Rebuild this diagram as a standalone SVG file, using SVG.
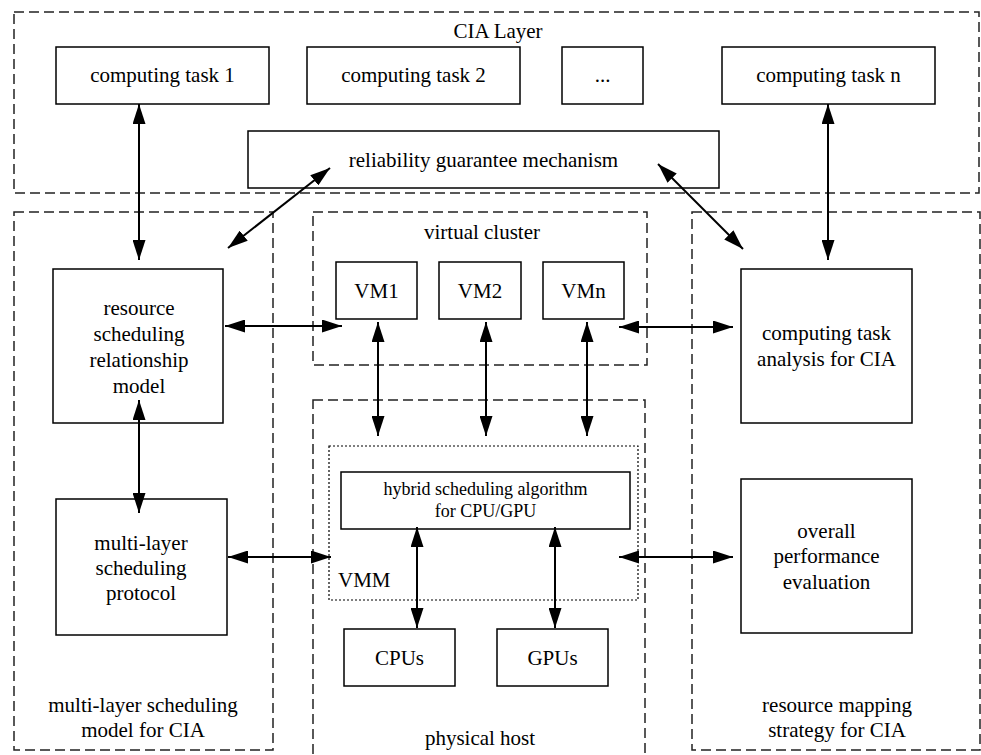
<svg xmlns="http://www.w3.org/2000/svg" width="981" height="755" viewBox="0 0 981 755">
  <defs>
    <marker id="head" markerUnits="userSpaceOnUse" markerWidth="20" markerHeight="13" refX="20" refY="6.5" orient="auto-start-reverse" viewBox="0 0 20 13">
      <path d="M0,0 L20,6.5 L0,13 z" fill="#000"/>
    </marker>
    <style>
      text { font-family: "Liberation Serif", "Times New Roman", serif; font-size: 21px; fill: #000; text-anchor: middle; }
      .small { font-size: 18px; }
      .box { fill: #fff; stroke: #000; stroke-width: 1.5; }
      .region { fill: none; stroke: #222; stroke-width: 1.5; stroke-dasharray: 10 5; }
      .dotted { fill: none; stroke: #000; stroke-width: 1.2; stroke-dasharray: 2 2; }
      .link { fill: none; stroke: #000; stroke-width: 2; marker-start: url(#head); marker-end: url(#head); }
    </style>
  </defs>

  <rect width="981" height="755" fill="#fff"/>

  <!-- dashed regions -->
  <g id="regions">
    <g id="cia-layer">
      <rect class="region" x="14" y="12" width="965" height="181"/>
      <text x="498" y="38">CIA Layer</text>
    </g>
    <g id="scheduling-model">
      <rect class="region" x="14" y="212" width="259" height="538"/>
      <text x="143" y="712">multi-layer scheduling</text>
      <text x="143" y="737">model for CIA</text>
    </g>
    <g id="virtual-cluster">
      <rect class="region" x="313" y="212" width="334" height="153"/>
      <text x="482" y="239">virtual cluster</text>
    </g>
    <g id="physical-host">
      <rect class="region" x="313" y="400" width="332" height="370"/>
      <text x="480" y="745">physical host</text>
    </g>
    <g id="mapping-strategy">
      <rect class="region" x="692" y="212" width="288" height="538"/>
      <text x="837" y="712">resource mapping</text>
      <text x="837" y="737">strategy for CIA</text>
    </g>
    <g id="vmm">
      <rect class="dotted" x="329" y="446" width="309" height="154"/>
      <text x="338" y="587" style="text-anchor:start">VMM</text>
    </g>
  </g>

  <!-- nodes -->
  <g id="task1">
    <rect class="box" x="56" y="47" width="213" height="57"/>
    <text x="162.5" y="82">computing task 1</text>
  </g>
  <g id="task2">
    <rect class="box" x="307" y="47" width="213" height="57"/>
    <text x="413.5" y="82">computing task 2</text>
  </g>
  <g id="task-more">
    <rect class="box" x="562" y="47" width="81" height="57"/>
    <text x="602.5" y="82">...</text>
  </g>
  <g id="taskn">
    <rect class="box" x="722" y="47" width="213" height="57"/>
    <text x="828.5" y="82">computing task n</text>
  </g>
  <g id="reliability">
    <rect class="box" x="248" y="131" width="471" height="57"/>
    <text x="483.5" y="167">reliability guarantee mechanism</text>
  </g>
  <g id="relationship-model">
    <rect class="box" x="53" y="269" width="170" height="154"/>
    <text x="139" y="315">resource</text>
    <text x="139" y="341">scheduling</text>
    <text x="139" y="367">relationship</text>
    <text x="139" y="393">model</text>
  </g>
  <g id="protocol">
    <rect class="box" x="56" y="499" width="171" height="136"/>
    <text x="141" y="550">multi-layer</text>
    <text x="141" y="575">scheduling</text>
    <text x="141" y="600">protocol</text>
  </g>
  <g id="vm1">
    <rect class="box" x="336" y="262" width="81" height="57"/>
    <text x="376.5" y="298">VM1</text>
  </g>
  <g id="vm2">
    <rect class="box" x="439" y="262" width="82" height="57"/>
    <text x="480" y="298">VM2</text>
  </g>
  <g id="vmn">
    <rect class="box" x="543" y="262" width="81" height="57"/>
    <text x="583.5" y="298">VMn</text>
  </g>
  <g id="hybrid">
    <rect class="box" x="341" y="472" width="289" height="57"/>
    <text class="small" x="485.5" y="495">hybrid scheduling algorithm</text>
    <text class="small" x="485.5" y="517">for CPU/GPU</text>
  </g>
  <g id="cpus">
    <rect class="box" x="344" y="629" width="111" height="57"/>
    <text x="399.5" y="665">CPUs</text>
  </g>
  <g id="gpus">
    <rect class="box" x="497" y="629" width="111" height="57"/>
    <text x="552.5" y="665">GPUs</text>
  </g>
  <g id="task-analysis">
    <rect class="box" x="741" y="269" width="171" height="154"/>
    <text x="826.5" y="340">computing task</text>
    <text x="826.5" y="366">analysis for CIA</text>
  </g>
  <g id="evaluation">
    <rect class="box" x="741" y="479" width="171" height="154"/>
    <text x="826.5" y="538">overall</text>
    <text x="826.5" y="563">performance</text>
    <text x="826.5" y="589">evaluation</text>
  </g>

  <!-- connectors -->
  <g id="connectors">
    <line class="link" x1="139" y1="104" x2="139" y2="260"/>
    <line class="link" x1="828" y1="104" x2="828" y2="260"/>
    <line class="link" x1="330" y1="168" x2="228" y2="248"/>
    <line class="link" x1="658" y1="164" x2="743" y2="249"/>
    <line class="link" x1="225" y1="326" x2="342" y2="326"/>
    <line class="link" x1="619" y1="327" x2="733" y2="327"/>
    <line class="link" x1="139" y1="400" x2="139" y2="513"/>
    <line class="link" x1="378" y1="322" x2="378" y2="436"/>
    <line class="link" x1="486" y1="322" x2="486" y2="436"/>
    <line class="link" x1="587" y1="322" x2="587" y2="436"/>
    <line class="link" x1="228" y1="557" x2="331" y2="557"/>
    <line class="link" x1="619" y1="557" x2="733" y2="557"/>
    <line class="link" x1="417" y1="527" x2="417" y2="628"/>
    <line class="link" x1="555" y1="527" x2="555" y2="628"/>
  </g>
</svg>
